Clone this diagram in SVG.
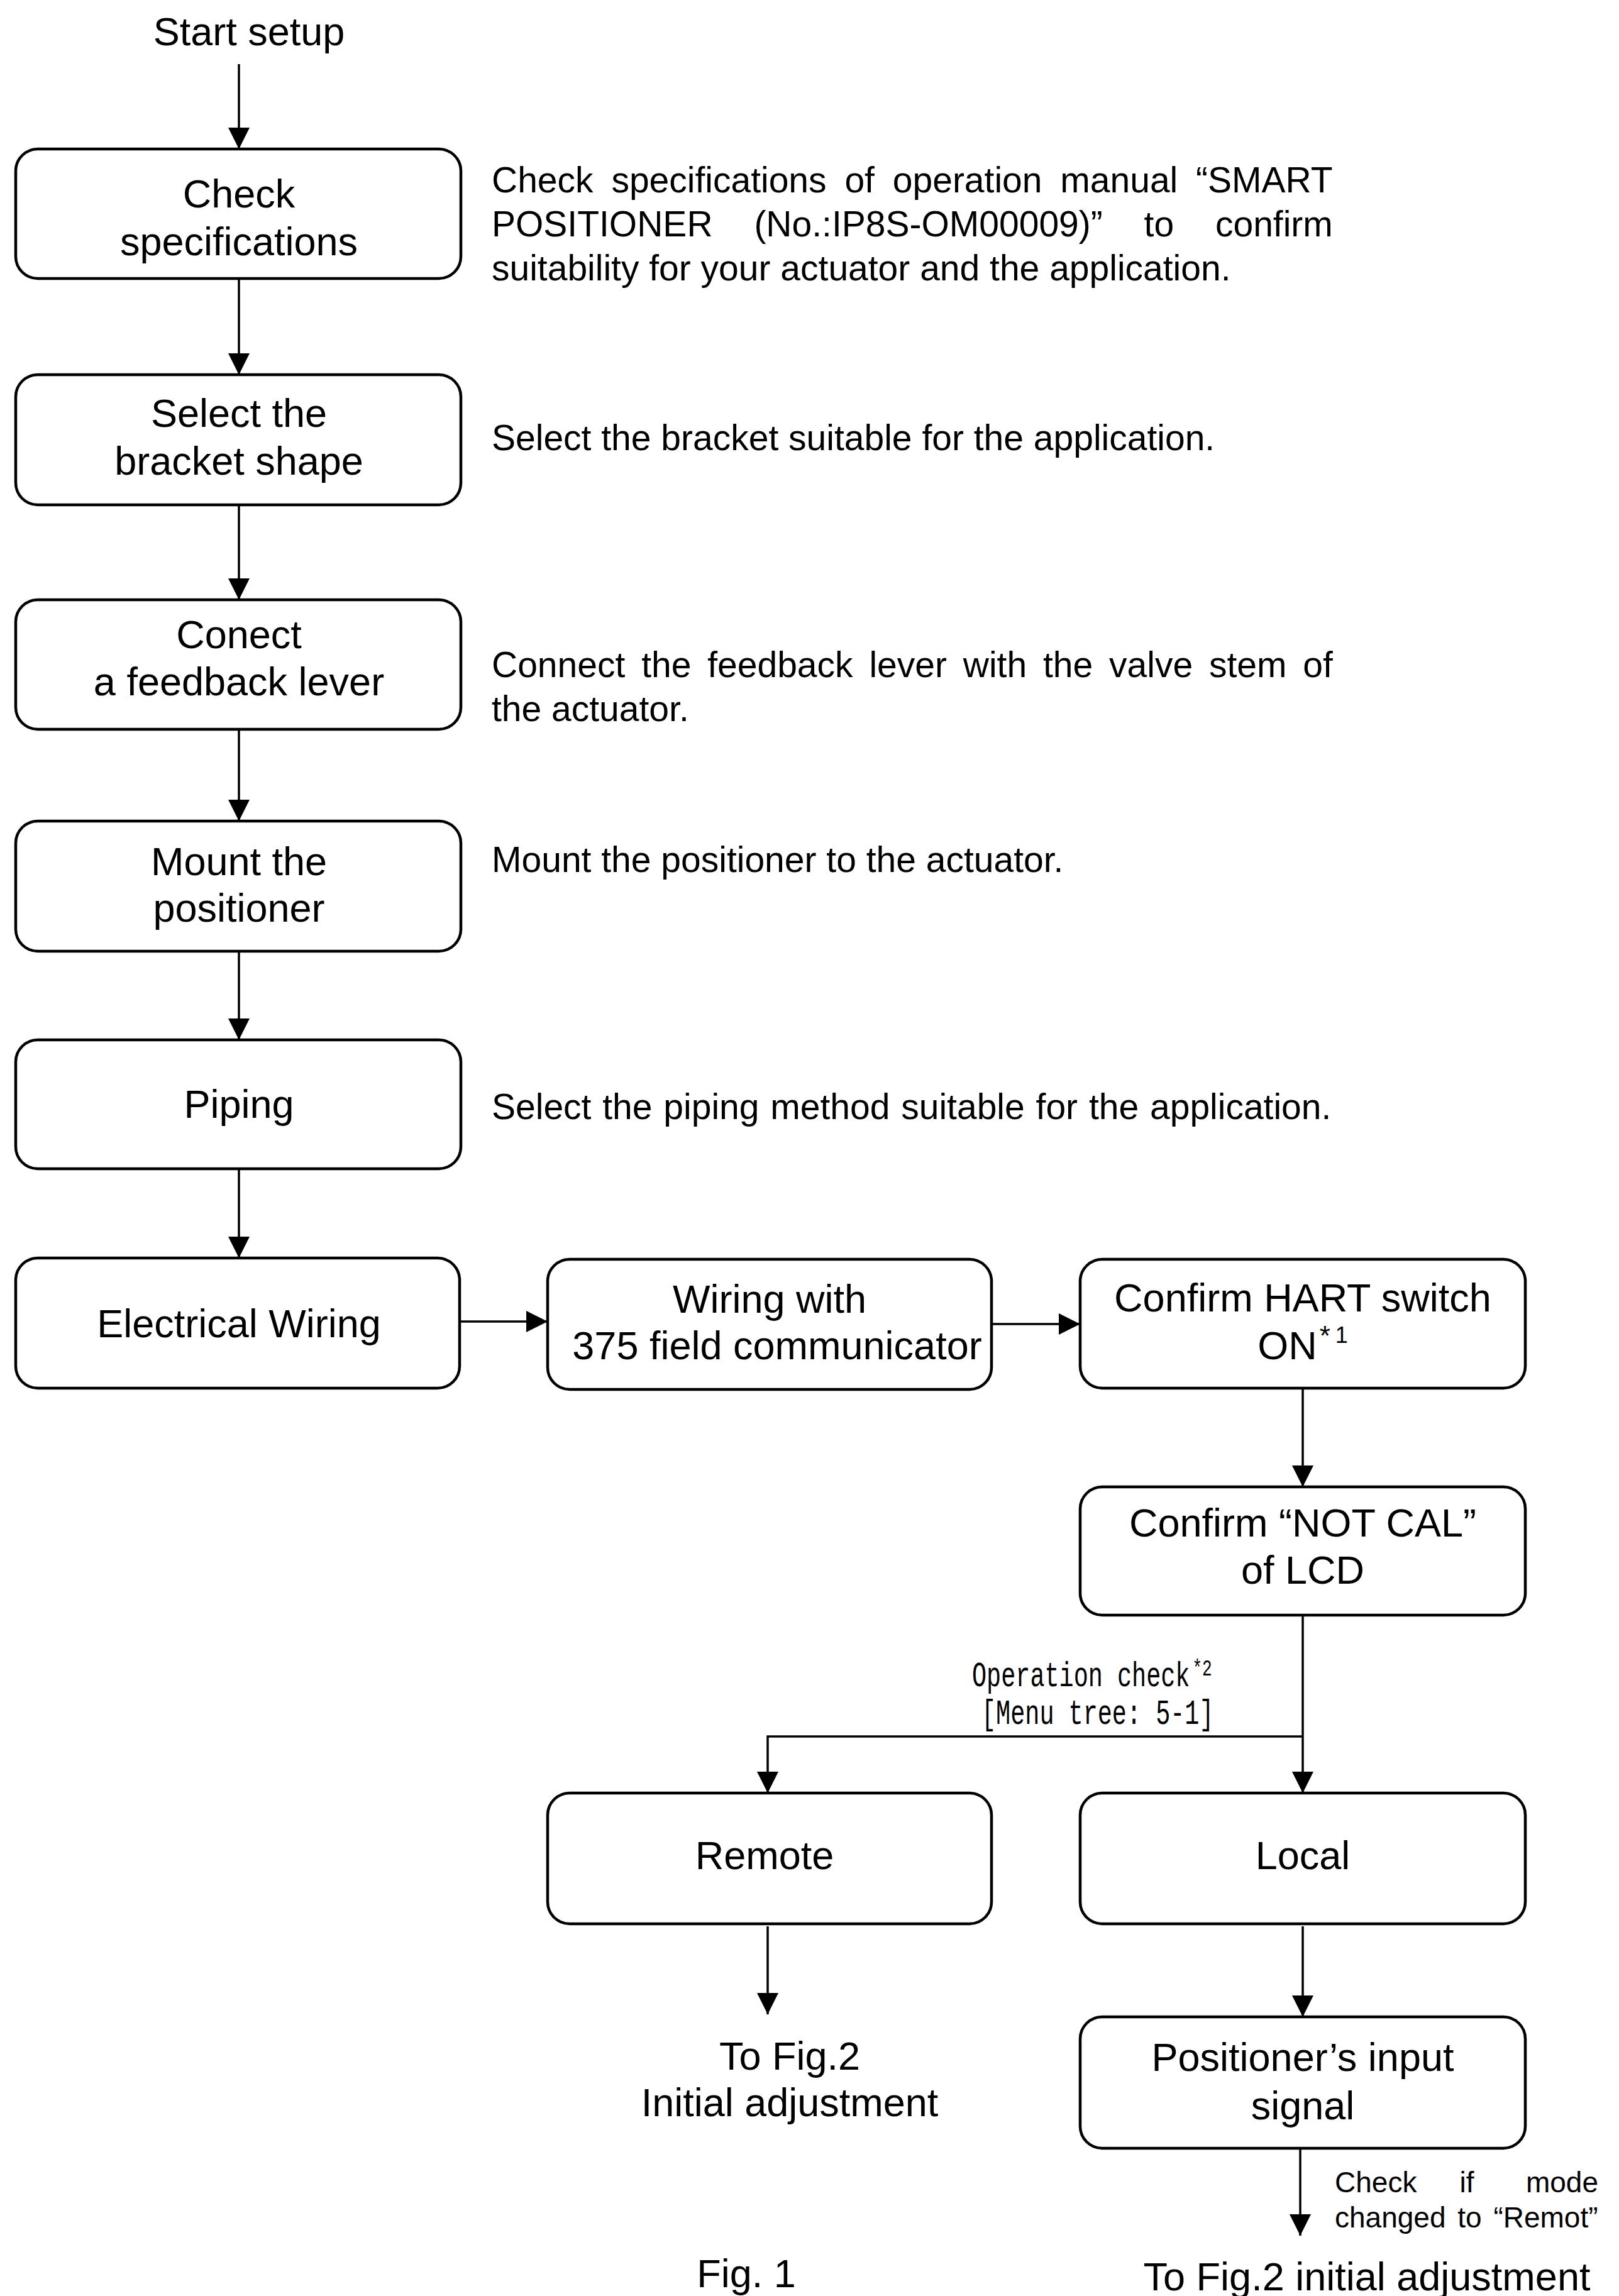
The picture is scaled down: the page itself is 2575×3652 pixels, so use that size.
<svg xmlns="http://www.w3.org/2000/svg" width="2575" height="3652" viewBox="0 0 2575 3652">
<style>
.bg{fill:#fff}
.box{fill:#fff;stroke:#000;stroke-width:4.5}
.t{font-family:"Liberation Sans",Arial,sans-serif;font-size:63px;fill:#000;text-anchor:middle}
.d{font-family:"Liberation Sans",Arial,sans-serif;font-size:57px;fill:#000}
.s{font-family:"Liberation Sans",Arial,sans-serif;font-size:46px;fill:#000}
.m{font-family:"Liberation Mono","DejaVu Sans Mono",monospace;font-size:38.5px;fill:#000}
.ln{fill:none;stroke:#000;stroke-width:3.5}
</style>
<defs>
<marker id="ah" markerWidth="34" markerHeight="34" refX="34" refY="17" orient="auto" markerUnits="userSpaceOnUse">
<path d="M0,0 L34,17 L0,34 Z" fill="#000"/>
</marker>
</defs>
<rect class="bg" x="0" y="0" width="2575" height="3652"/>

<g id="start"><text class="t" x="396" y="72" font-size="60">Start setup</text></g>

<g id="n1"><rect class="box" x="25" y="237" width="708" height="206" rx="35"/>
<text class="t" x="380" y="330">Check</text><text class="t" x="380" y="406">specifications</text></g>
<g id="n2"><rect class="box" x="25" y="596" width="708" height="207" rx="35"/>
<text class="t" x="380" y="679">Select the</text><text class="t" x="380" y="755">bracket shape</text></g>
<g id="n3"><rect class="box" x="25" y="954" width="708" height="206" rx="35"/>
<text class="t" x="380" y="1031">Conect</text><text class="t" x="380" y="1106">a feedback lever</text></g>
<g id="n4"><rect class="box" x="25" y="1306" width="708" height="207" rx="35"/>
<text class="t" x="380" y="1392">Mount the</text><text class="t" x="380" y="1466">positioner</text></g>
<g id="n5"><rect class="box" x="25" y="1654" width="708" height="205" rx="35"/>
<text class="t" x="380" y="1778">Piping</text></g>
<g id="n6"><rect class="box" x="25" y="2001" width="706" height="207" rx="35"/>
<text class="t" x="380" y="2127">Electrical Wiring</text></g>
<g id="n7"><rect class="box" x="871" y="2003" width="706" height="207" rx="35"/>
<text class="t" x="1224" y="2088">Wiring with</text><text class="t" x="1236" y="2162">375 field communicator</text></g>
<g id="n8"><rect class="box" x="1718" y="2003" width="708" height="205" rx="35"/>
<text class="t" x="2072" y="2086">Confirm HART switch</text>
<text class="t" x="2072" y="2162"><tspan>ON</tspan><tspan font-size="44" dx="4" dy="-22">*</tspan><tspan font-size="36" dx="8" dy="-4">1</tspan></text></g>
<g id="n9"><rect class="box" x="1718" y="2365" width="708" height="204" rx="35"/>
<text class="t" x="2072" y="2444">Confirm “NOT CAL”</text><text class="t" x="2072" y="2519">of LCD</text></g>
<g id="n10"><rect class="box" x="871" y="2852" width="706" height="208" rx="35"/>
<text class="t" x="1216" y="2973">Remote</text></g>
<g id="n11"><rect class="box" x="1718" y="2852" width="708" height="208" rx="35"/>
<text class="t" x="2072" y="2973">Local</text></g>
<g id="n12"><rect class="box" x="1718" y="3208" width="708" height="209" rx="35"/>
<text class="t" x="2072" y="3294">Positioner’s input</text><text class="t" x="2072" y="3371">signal</text></g>
<g id="end1"><text class="t" x="1256" y="3292">To Fig.2</text><text class="t" x="1256" y="3366">Initial adjustment</text></g>
<g id="end2"><text class="t" x="2174" y="3643">To Fig.2 initial adjustment</text></g>

<g id="notes">
<text class="d" x="782" y="306" word-spacing="13">Check specifications of operation manual “SMART</text>
<text class="d" x="782" y="376" word-spacing="50">POSITIONER (No.:IP8S-OM00009)” to confirm</text>
<text class="d" x="782" y="446">suitability for your actuator and the application.</text>
<text class="d" x="782" y="716">Select the bracket suitable for the application.</text>
<text class="d" x="782" y="1077" word-spacing="10">Connect the feedback lever with the valve stem of</text>
<text class="d" x="782" y="1147">the actuator.</text>
<text class="d" x="782" y="1387">Mount the positioner to the actuator.</text>
<text class="d" x="782" y="1780" word-spacing="2">Select the piping method suitable for the application.</text>
<text class="m" transform="translate(1546,2682) scale(1,1.45)" x="0" y="0">Operation check<tspan font-size="26" dx="4" dy="-12">*2</tspan></text>
<text class="m" transform="translate(1561,2742) scale(1,1.45)" x="0" y="0" font-size="37">[Menu tree: 5-1]</text>
<text class="s" x="2123" y="3487">Check</text>
<text class="s" x="2333" y="3487" text-anchor="middle">if</text>
<text class="s" x="2542" y="3487" text-anchor="end">mode</text>
<text class="s" x="2123" y="3543" word-spacing="6">changed to “Remot”</text>
<text class="t" x="1187" y="3638">Fig. 1</text>
</g>

<g id="connectors">
<line class="ln" x1="380" y1="102" x2="380" y2="237" marker-end="url(#ah)"/>
<line class="ln" x1="380" y1="443" x2="380" y2="596" marker-end="url(#ah)"/>
<line class="ln" x1="380" y1="803" x2="380" y2="954" marker-end="url(#ah)"/>
<line class="ln" x1="380" y1="1160" x2="380" y2="1306" marker-end="url(#ah)"/>
<line class="ln" x1="380" y1="1513" x2="380" y2="1654" marker-end="url(#ah)"/>
<line class="ln" x1="380" y1="1859" x2="380" y2="2001" marker-end="url(#ah)"/>
<line class="ln" x1="731" y1="2102" x2="871" y2="2102" stroke-width="4.5" marker-end="url(#ah)"/>
<line class="ln" x1="1577" y1="2106" x2="1718" y2="2106" stroke-width="4.5" marker-end="url(#ah)"/>
<line class="ln" x1="2072" y1="2210" x2="2072" y2="2365" marker-end="url(#ah)"/>
<line class="ln" x1="2072" y1="2569" x2="2072" y2="2852" marker-end="url(#ah)"/>
<polyline class="ln" points="2072,2762 1221,2762 1221,2852" marker-end="url(#ah)"/>
<line class="ln" x1="1221" y1="3064" x2="1221" y2="3204" marker-end="url(#ah)"/>
<line class="ln" x1="2072" y1="3064" x2="2072" y2="3208" marker-end="url(#ah)"/>
<line class="ln" x1="2068" y1="3417" x2="2068" y2="3556" marker-end="url(#ah)"/>
</g>
</svg>
